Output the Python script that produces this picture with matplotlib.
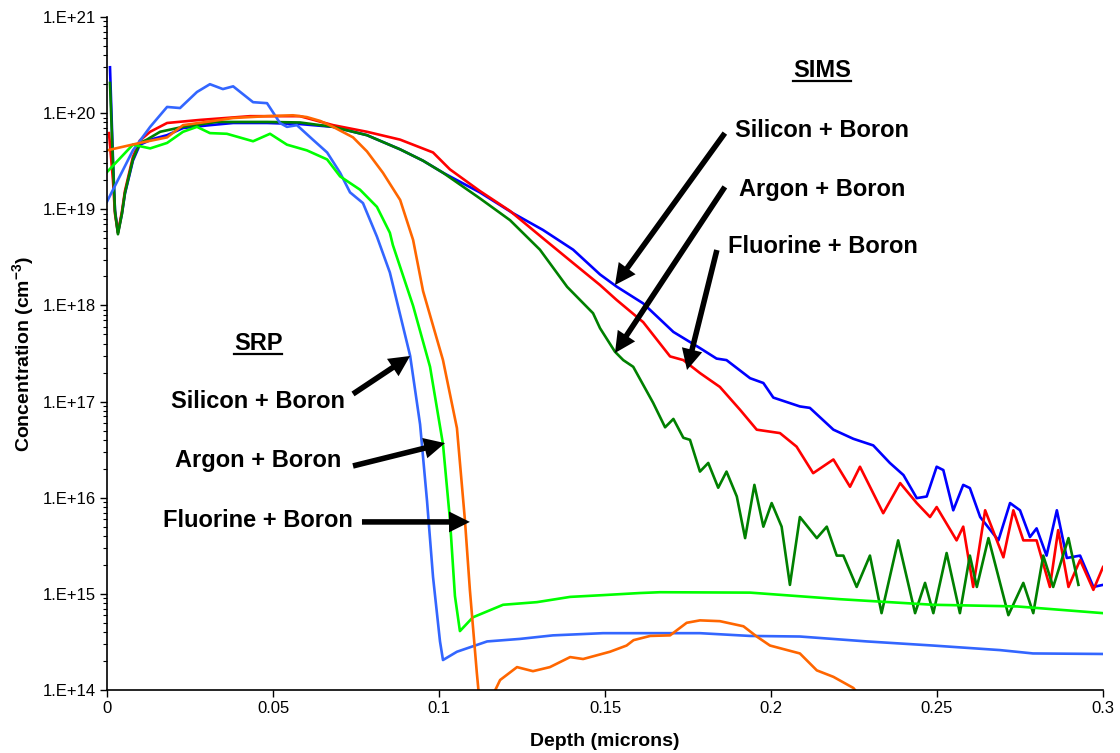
import numpy as np
import matplotlib
matplotlib.use('Agg')
import matplotlib.pyplot as plt
from matplotlib.ticker import FuncFormatter, FixedLocator, NullFormatter, MultipleLocator
from matplotlib.lines import Line2D

# SIMS profiles (depth in microns, concentration in cm^-3)
simsSiX = [0.0009, 0.0018, 0.0024, 0.0033, 0.0045, 0.0054, 0.0078, 0.0099, 0.0139, 0.0181, 0.0229, 0.031,
           0.038, 0.0482, 0.0581, 0.0681, 0.0783, 0.0883, 0.0952, 0.1012, 0.1123, 0.1223, 0.1313, 0.1404,
           0.1485, 0.1535, 0.1615, 0.1706, 0.1786, 0.1836, 0.1866, 0.1937, 0.1977, 0.2007, 0.2087, 0.2117,
           0.2188, 0.2248, 0.2308, 0.2358, 0.2399, 0.2439, 0.2469, 0.2499, 0.2519, 0.2549, 0.2579, 0.2599,
           0.263, 0.2685, 0.272, 0.275, 0.278, 0.28, 0.283, 0.2861, 0.2891, 0.2931, 0.2971, 0.3]
simsSiY = [3.0e20, 3.3e19, 9.8e18, 5.7e18, 9.0e18, 1.45e19, 3.2e19, 4.7e19, 5.4e19, 5.9e19, 7.0e19, 7.5e19,
           7.9e19, 7.9e19, 7.7e19, 7.2e19, 5.9e19, 4.2e19, 3.2e19, 2.4e19, 1.5e19, 9.1e18, 6.1e18, 3.8e18,
           2.1e18, 1.57e18, 1.05e18, 5.3e17, 3.6e17, 2.8e17, 2.7e17, 1.75e17, 1.56e17, 1.1e17, 8.9e16, 8.6e16,
           5.1e16, 4.1e16, 3.5e16, 2.3e16, 1.72e16, 9.9e15, 1.03e16, 2.1e16, 1.94e16, 7.4e15, 1.36e16, 1.26e16,
           6.3e15, 3.6e15, 8.8e15, 7.4e15, 3.9e15, 4.8e15, 2.5e15, 7.4e15, 2.36e15, 2.5e15, 1.18e15, 1.24e15]

simsArX = [0.0006, 0.0018, 0.0024, 0.0033, 0.0045, 0.0054, 0.0078, 0.0099, 0.013, 0.0181, 0.028, 0.0431,
           0.0581, 0.0681, 0.0783, 0.0883, 0.0982, 0.1033, 0.1123, 0.1214, 0.1313, 0.1404, 0.1485, 0.1535,
           0.1615, 0.1696, 0.1736, 0.1786, 0.1846, 0.1907, 0.1957, 0.2027, 0.2077, 0.2127, 0.2188, 0.2238,
           0.2268, 0.2338, 0.2389, 0.2439, 0.2479, 0.2499, 0.2559, 0.2579, 0.2609, 0.2645, 0.27, 0.273,
           0.276, 0.28, 0.284, 0.2865, 0.2896, 0.2931, 0.2971, 0.3]
simsArY = [6.2e19, 2.0e19, 9.0e18, 5.7e18, 9.5e18, 1.55e19, 3.5e19, 5.2e19, 6.4e19, 7.9e19, 8.5e19, 9.3e19,
           9.3e19, 7.5e19, 6.4e19, 5.3e19, 3.9e19, 2.6e19, 1.55e19, 9.6e18, 5.0e18, 2.76e18, 1.63e18, 1.14e18,
           6.7e17, 2.95e17, 2.7e17, 1.98e17, 1.42e17, 8.2e16, 5.1e16, 4.7e16, 3.4e16, 1.8e16, 2.5e16, 1.3e16,
           2.1e16, 6.9e15, 1.42e16, 8.8e15, 6.3e15, 8.0e15, 3.6e15, 5.0e15, 1.18e15, 7.4e15, 2.4e15, 7.4e15,
           3.6e15, 3.6e15, 1.18e15, 4.6e15, 1.18e15, 2.25e15, 1.1e15, 1.9e15]

simsFX = [0.0009, 0.0018, 0.0024, 0.0033, 0.0045, 0.0054, 0.0078, 0.0099, 0.012, 0.016, 0.0229, 0.0331,
          0.0482, 0.0581, 0.0681, 0.0783, 0.0883, 0.0952, 0.1012, 0.1123, 0.1214, 0.1304, 0.1386, 0.1464,
          0.1485, 0.153, 0.1555, 0.1585, 0.1645, 0.1681, 0.1706, 0.1736, 0.1756, 0.1786, 0.1811, 0.1841,
          0.1866, 0.1897, 0.1922, 0.195, 0.1977, 0.2002, 0.2032, 0.2057, 0.2087, 0.2138, 0.2168, 0.2198,
          0.2218, 0.2258, 0.2298, 0.2333, 0.2383, 0.2434, 0.2464, 0.2489, 0.2529, 0.2569, 0.2599, 0.262,
          0.2655, 0.2715, 0.276, 0.279, 0.282, 0.285, 0.2896, 0.2926]
simsFY = [2.06e20, 3.0e19, 9.5e18, 5.5e18, 9.0e18, 1.48e19, 3.3e19, 4.9e19, 5.3e19, 6.4e19, 7.2e19, 8.1e19,
          8.1e19, 8.0e19, 7.2e19, 5.9e19, 4.2e19, 3.2e19, 2.4e19, 1.3e19, 7.7e18, 3.8e18, 1.56e18, 8.3e17,
          5.8e17, 3.3e17, 2.7e17, 2.3e17, 9.7e16, 5.4e16, 6.6e16, 4.2e16, 4.0e16, 1.87e16, 2.3e16, 1.27e16,
          1.87e16, 1.03e16, 3.8e15, 1.36e16, 5.0e15, 8.8e15, 5.0e15, 1.24e15, 6.3e15, 3.8e15, 5.0e15, 2.5e15,
          2.5e15, 1.18e15, 2.5e15, 6.3e14, 3.6e15, 6.3e14, 1.3e15, 6.3e14, 2.66e15, 6.3e14, 2.5e15, 1.18e15,
          3.8e15, 6.0e14, 1.3e15, 6.3e14, 2.5e15, 1.18e15, 3.8e15, 1.24e15]

# SRP profiles
srpSiX = [0.0, 0.0078, 0.013, 0.0181, 0.022, 0.0271, 0.031, 0.0349, 0.038, 0.044, 0.0482, 0.0521, 0.0542,
          0.0572, 0.062, 0.0663, 0.0702, 0.0732, 0.0771, 0.0813, 0.0852, 0.0913, 0.0943, 0.0964, 0.0982,
          0.1003, 0.1012, 0.1054, 0.1145, 0.1244, 0.1343, 0.1494, 0.1605, 0.1786, 0.1937, 0.2087, 0.2289,
          0.2488, 0.269, 0.2789, 0.3]
srpSiY = [1.2e19, 4.1e19, 7.2e19, 1.16e20, 1.13e20, 1.66e20, 2.0e20, 1.78e20, 1.9e20, 1.3e20, 1.27e20, 7.9e19,
          7.2e19, 7.5e19, 5.3e19, 3.9e19, 2.4e19, 1.5e19, 1.16e19, 5.2e18, 2.2e18, 3.0e17, 5.8e16, 9.2e15,
          1.5e15, 3.2e14, 2.05e14, 2.5e14, 3.2e14, 3.4e14, 3.7e14, 3.9e14, 3.9e14, 3.9e14, 3.65e14, 3.6e14,
          3.2e14, 2.9e14, 2.6e14, 2.4e14, 2.37e14]

srpArX = [0.0, 0.0078, 0.013, 0.0181, 0.0229, 0.0271, 0.031, 0.0361, 0.044, 0.0491, 0.0542, 0.0602, 0.0663,
          0.0702, 0.0762, 0.0813, 0.0852, 0.0861, 0.0922, 0.0973, 0.1012, 0.1033, 0.1048, 0.1063, 0.1102,
          0.1193, 0.1295, 0.1395, 0.1494, 0.1605, 0.1666, 0.1937, 0.2208, 0.2488, 0.2741, 0.3]
srpArY = [2.44e19, 4.7e19, 4.3e19, 4.9e19, 6.4e19, 7.2e19, 6.2e19, 6.1e19, 5.1e19, 6.1e19, 4.7e19, 4.1e19,
          3.3e19, 2.2e19, 1.6e19, 1.06e19, 5.7e18, 4.25e18, 9.9e17, 2.3e17, 3.6e16, 5.9e15, 9.5e14, 4.1e14,
          5.7e14, 7.7e14, 8.2e14, 9.3e14, 9.7e14, 1.02e15, 1.04e15, 1.03e15, 8.8e14, 7.7e14, 7.4e14, 6.3e14]

srpFX = [0.0, 0.0099, 0.0181, 0.0229, 0.031, 0.038, 0.0482, 0.056, 0.0602, 0.0642, 0.0681, 0.0741, 0.0783,
         0.0831, 0.0883, 0.0922, 0.0952, 0.1012, 0.1054, 0.1078, 0.1093, 0.1114, 0.1123, 0.1148, 0.1184,
         0.1235, 0.1283, 0.1334, 0.1395, 0.1434, 0.1515, 0.1565, 0.1586, 0.1636, 0.1696, 0.1746, 0.1786,
         0.1846, 0.1917, 0.1957, 0.1997, 0.2087, 0.2138, 0.2188, 0.2248, 0.229]
srpFY = [4.1e19, 4.9e19, 5.6e19, 7.5e19, 8.2e19, 8.9e19, 9.3e19, 9.5e19, 9.1e19, 8.3e19, 7.2e19, 5.6e19, 4.0e19,
         2.4e19, 1.25e19, 4.8e18, 1.41e18, 2.7e17, 5.3e16, 5.9e15, 1.1e15, 1.5e14, 7.0e13, 7.0e13, 1.27e14,
         1.73e14, 1.57e14, 1.73e14, 2.2e14, 2.1e14, 2.5e14, 2.9e14, 3.3e14, 3.65e14, 3.7e14, 5.0e14, 5.3e14,
         5.2e14, 4.6e14, 3.6e14, 2.9e14, 2.4e14, 1.6e14, 1.37e14, 1.05e14, 7.0e13]

labels = ['Silicon + Boron', 'Argon + Boron', 'Fluorine + Boron']
decades = list(range(14, 22))

# Annotation anchors (text baseline, arrow tail -> head), data coordinates
simsTitlePos = (0.2154, 2.38e20)
simsTextPos = [(0.2154, 5.65e19), (0.2154, 1.37e19), (0.2157, 3.5e18)]
simsArrows = [((0.1861, 6.2e19), (0.1530, 1.63e18)),
              ((0.1861, 1.71e19), (0.1530, 3.2e17)),
              ((0.1837, 3.77e18), (0.1747, 2.13e17))]
srpTitlePos = (0.0455, 3.44e17)
srpTextPos = [(0.0455, 8.57e16), (0.0455, 2.08e16), (0.0455, 4.96e15)]
srpArrows = [((0.0741, 1.2e17), (0.0913, 2.98e17)),
             ((0.0741, 2.14e16), (0.1018, 3.7e16)),
             ((0.0768, 5.6e15), (0.1093, 5.6e15))]

plt.rcParams['font.family'] = ['Liberation Sans', 'DejaVu Sans']
plt.rcParams['mathtext.fontset'] = 'custom'
plt.rcParams['mathtext.rm'] = 'Liberation Sans'
plt.rcParams['mathtext.bf'] = 'Liberation Sans:bold'
plt.rcParams['mathtext.default'] = 'bf'

fig = plt.figure(figsize=(11.2, 7.53), dpi=100)
ax = fig.add_axes([107 / 1120, 63 / 753, 996 / 1120, 673 / 753])

lw = 1.9
ax.plot(simsSiX, simsSiY, color='#0000FF', lw=lw, solid_joinstyle='round')
ax.plot(simsArX, simsArY, color='#FF0000', lw=lw, solid_joinstyle='round')
ax.plot(simsFX, simsFY, color='#008000', lw=lw, solid_joinstyle='round')
ax.plot(srpSiX, srpSiY, color='#3366FF', lw=lw, solid_joinstyle='round')
ax.plot(srpArX, srpArY, color='#00FF00', lw=lw, solid_joinstyle='round')
ax.plot(srpFX, srpFY, color='#FF6600', lw=lw, solid_joinstyle='round')

ax.set_yscale('log')
ax.set_xlim(0, 0.3)
ax.set_ylim(10.0 ** decades[0], 10.0 ** decades[-1])
ax.xaxis.set_major_locator(MultipleLocator(0.05))
ax.xaxis.set_major_formatter(FuncFormatter(lambda v, p: '%g' % round(v, 3)))
# only ticks inside the visible range
ax.yaxis.set_major_locator(FixedLocator([10.0 ** d for d in decades]))
ax.yaxis.set_minor_locator(FixedLocator([m * 10.0 ** d for d in decades[:-1] for m in range(2, 10)]))
ax.yaxis.set_minor_formatter(NullFormatter())
ax.yaxis.set_major_formatter(FuncFormatter(lambda v, p: '1.E+%d' % round(np.log10(v))))
ax.tick_params(axis='both', which='major', direction='out', length=5, width=1, labelsize=12, pad=3)
ax.tick_params(axis='y', which='minor', direction='out', length=3, width=0.8)
ax.spines['top'].set_visible(False)
ax.spines['right'].set_visible(False)
ax.spines['left'].set_linewidth(1.2)
ax.spines['bottom'].set_linewidth(1.2)

ax.set_xlabel('Depth (microns)', fontsize=14, fontweight='bold', labelpad=12)
ax.set_ylabel('Concentration (cm$^{-3}$)', fontsize=14, fontweight='bold')
ax.yaxis.set_label_coords(-0.071, 0.5)

arrowStyle = dict(arrowstyle='simple,head_length=0.75,head_width=0.75,tail_width=0.2',
                  mutation_scale=20, color='black', lw=0, shrinkA=0, shrinkB=0)

titles = []
titles.append(ax.text(*simsTitlePos, 'SIMS', fontsize=17, fontweight='bold', ha='center', va='baseline'))
titles.append(ax.text(*srpTitlePos, 'SRP', fontsize=17, fontweight='bold', ha='center', va='baseline'))
for i in range(3):
    ax.text(*simsTextPos[i], labels[i], fontsize=17, fontweight='bold', ha='center', va='baseline')
    ax.text(*srpTextPos[i], labels[i], fontsize=17, fontweight='bold', ha='center', va='baseline')
    ax.annotate('', xy=simsArrows[i][1], xytext=simsArrows[i][0], arrowprops=arrowStyle)
    ax.annotate('', xy=srpArrows[i][1], xytext=srpArrows[i][0], arrowprops=arrowStyle)

# Underline the two group titles
fig.canvas.draw()
renderer = fig.canvas.get_renderer()
for t in titles:
    bb = t.get_window_extent(renderer)
    baseY = ax.transData.transform(t.get_position())[1] - 4
    p0 = fig.transFigure.inverted().transform((bb.x0, baseY))
    p1 = fig.transFigure.inverted().transform((bb.x1, baseY))
    fig.add_artist(Line2D([p0[0], p1[0]], [p0[1], p1[1]], color='black', lw=1.6,
                          transform=fig.transFigure))

fig.savefig('out.png', dpi=100)
